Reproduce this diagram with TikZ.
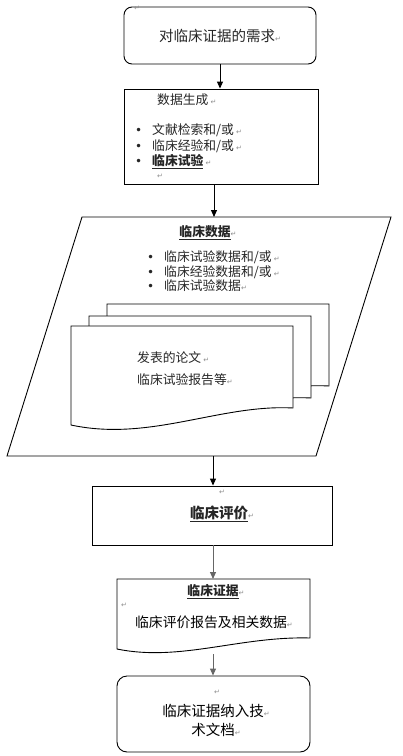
\documentclass[tikz,border=0pt]{standalone}
\usepackage{fontspec}
\setmainfont{Noto Sans CJK SC}
\newfontfamily\symfont{DejaVu Sans}
\usetikzlibrary{arrows.meta}
\newcommand\retmark{{\symfont\color{black!45}\fontsize{7}{7}\selectfont ↵}}
\newcommand\bul{\makebox[17pt][l]{\symfont\fontsize{12}{12}\selectfont •}}
\begin{document}
\begin{tikzpicture}[x=1pt,y=-1pt,
  box/.style={draw=black, line width=0.9pt},
  arr/.style={-{Triangle[length=7pt,width=6pt]}, line width=1pt},
  garr/.style={arr, draw=black!60, fill=black!70},
  txt/.style={inner sep=0pt, text=black!85},
  f13/.style={font=\fontsize{12.8}{15}\selectfont},
  f14/.style={font=\fontsize{14.5}{19}\selectfont},
  retm/.style={inner sep=0pt},
]
\useasboundingbox (0,0) rectangle (403,756);

% 1: need
\node[box, rounded corners=8pt, minimum width=192pt, minimum height=57pt, txt, f14] (need) at (220,35.5) {对临床证据的需求\retmark};
\node[retm] (m1) at (137,8) {\retmark};

% 2: data generation
\node[box, minimum width=194pt, minimum height=95pt] (gen) at (221,136.5) {};
\node[txt, f13, anchor=west] (g0) at (157,100) {数据生成\,\retmark};
\node[txt, f13, anchor=west] (g1) at (135,130) {\bul 文献检索和/或\,\retmark};
\node[txt, f13, anchor=west] (g2) at (135,146) {\bul 临床经验和/或\,\retmark};
\node[txt, f13, anchor=west] (g3) at (135,162) {\bul \textbf{\underline{临床试验}}\,\retmark};
\node[retm] (m2) at (160,176) {\retmark};

\draw[arr] (need.south) -- (need.south |- gen.north);

% 3: clinical data parallelogram
\coordinate (dtop) at (214,217);
\coordinate (dbot) at (213,456);
\draw[box] (82,217) -- (391,217) -- (316,456) -- (7,456) -- cycle;
\draw[arr] (gen.south -| dtop) -- (dtop);

\node[txt, f13] (d0) at (208,233) {\textbf{\underline{临床数据}}\retmark};
\node[txt, f13, anchor=west] (d1) at (147,257) {\bul 临床试验数据和/或\,\retmark};
\node[txt, f13, anchor=west] (d2) at (147,272) {\bul 临床经验数据和/或\,\retmark};
\node[txt, f13, anchor=west] (d3) at (147,286) {\bul 临床试验数据\retmark};

% stacked documents
\foreach \dx/\dy in {36/-22, 18/-10, 0/0}{
  \draw[box, fill=white, shift={(\dx,\dy)}] (71,326) -- (293,326) -- (293,408)
     .. controls (220,404) and (150,442) .. (71,425) -- cycle;
}
\node[txt, f13, anchor=west] (p1) at (137,358) {发表的论文\,\retmark};
\node[txt, f13, anchor=west] (p2) at (137,380) {临床试验报告等\retmark};

% 4: clinical evaluation
\node[box, minimum width=240pt, minimum height=59pt] (eval) at (212,515.5) {};
\node[txt, font=\fontsize{14.5}{17}\selectfont] (e0) at (222,514) {\textbf{\underline{临床评价}}\retmark};
\node[retm] (m3) at (222,492) {\retmark};
\draw[arr] (dbot) -- (dbot |- eval.north);

% 5: clinical evidence document
\coordinate (evtop) at (213,579);
\coordinate (evbot) at (213,654);
\draw[box] (117,579) -- (310,579) -- (310,638)
   .. controls (240,636) and (180,662) .. (117,649) -- cycle;
\draw[garr] (evtop |- eval.south) -- (evtop);
\node[txt, f13] (v0) at (216,592) {\textbf{\underline{临床证据}}\retmark};
\node[retm] (m4) at (124,605) {\retmark};
\node[txt, font=\fontsize{13.8}{16}\selectfont, text=black] (v1) at (214,622) {临床评价报告及相关数据\retmark};

% 6: final
\node[box, rounded corners=10pt, minimum width=193pt, minimum height=76pt] (fin) at (213.5,714) {};
\node[retm] (m5) at (217,692) {\retmark};
\node[txt, f14, align=center, text=black] (f1) at (216,720) {临床证据纳入技\retmark\\术文档\retmark};
\draw[garr] (evbot) -- (evbot |- fin.north);
\end{tikzpicture}
\end{document}
